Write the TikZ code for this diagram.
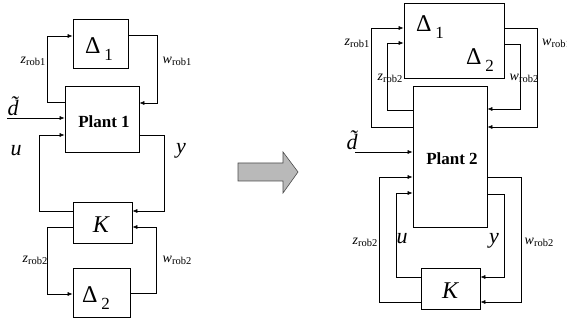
\documentclass[tikz,border=0pt]{standalone}
\usepackage{fontspec}
\setmainfont{Liberation Serif}
\usepackage{xcolor}
\usepackage{tikz}
\usetikzlibrary{positioning,arrows.meta,calc}

\newcommand{\roblab}[2]{{\fontsize{14}{14}\selectfont\itshape #1}\raisebox{-2pt}{\fontsize{10.5}{10.5}\selectfont #2}}
\newcommand{\dlab}[2]{{\fontsize{24}{24}\selectfont #1}\hspace{4pt}\raisebox{-7pt}{\fontsize{17}{17}\selectfont #2}}

\begin{document}
\begin{tikzpicture}[x=1pt, y=-1pt,
  blk/.style={draw, line width=0.7pt, inner sep=0pt},
  sig/.style={draw, line width=0.6pt, -{Latex[length=5pt,width=4pt]}},
  lbl/.style={inner sep=0pt},
  big/.style={inner sep=0pt, font=\fontsize{22}{22}\selectfont\itshape}]
\useasboundingbox (0,0) rectangle (567,320);
% left: two separate uncertainty blocks
\node[blk, minimum width=55pt, minimum height=49pt] (deltaA) at (100.5,43.5) {};
\node[blk, minimum width=74pt, minimum height=66pt] (plantA) at (102,119) {};
\node[blk, minimum width=59pt, minimum height=41pt] (kA) at (102.5,222.5) {};
\node[blk, minimum width=57pt, minimum height=49pt] (deltaB) at (101.5,292.5) {};
\node[lbl] (deltaAtxt) at (99,49) {\dlab{Δ}{1}};
\node[lbl] (deltaBtxt) at (96,298) {\dlab{Δ}{2}};
\node[lbl, font=\fontsize{17}{17}\selectfont\bfseries] (plantAtxt) at (104,122) {Plant 1};
\node[big, font=\fontsize{24}{24}\selectfont\itshape] (kAtxt) at (101,225) {K};
\coordinate (dinA) at (7,118);
\draw[sig] (plantA.west|-0,102) -- ++(-17,0) |- (deltaA.west|-0,36);
\draw[sig] (deltaA.east|-0,35) -- ++(29,0) |- (plantA.east|-0,103);
\draw[sig] (dinA) -- (plantA.west|-dinA);
\draw[sig] (kA.west|-0,211) -- ++(-33,0) |- (plantA.west|-0,135);
\draw[sig] (plantA.east|-0,135) -- ++(25,0) |- (kA.east|-0,211);
\draw[sig] (kA.west|-0,227) -- ++(-25,0) |- (deltaB.west|-0,294);
\draw[sig] (deltaB.east|-0,293) -- ++(26,0) |- (kA.east|-0,227);
\node[lbl] (zA1) at (33,61) {\roblab{z}{rob1}};
\node[lbl] (wA1) at (177,61) {\roblab{w}{rob1}};
\node[lbl] (zA2) at (35,260) {\roblab{z}{rob2}};
\node[lbl] (wA2) at (177,260) {\roblab{w}{rob2}};
\node[big] (dA) at (13,106) {\~{d}};
\node[big] (uA) at (16,151) {u};
\node[big] (yA) at (181,151) {y};
% block arrow
\draw[draw=black!70, fill=gray!55, line width=0.6pt] (238,163) -- (283,163) -- (283,152)
  -- (298,172) -- (283,193) -- (283,181) -- (238,181) -- cycle;
% right: one combined uncertainty block
\node[blk, minimum width=100pt, minimum height=75pt] (deltaC) at (454,40.5) {};
\node[blk, minimum width=74pt, minimum height=141pt] (plantB) at (450,156.5) {};
\node[blk, minimum width=59pt, minimum height=41pt] (kB) at (450.5,288.5) {};
\node[lbl] (deltaCtxt) at (430,27) {\dlab{Δ}{1}};
\node[lbl] (deltaDtxt) at (480,60) {\dlab{Δ}{2}};
\node[lbl, font=\fontsize{17}{17}\selectfont\bfseries] (plantBtxt) at (452,159) {Plant 2};
\node[big, font=\fontsize{24}{24}\selectfont\itshape] (kBtxt) at (450,291) {K};
\coordinate (dinB) at (355,152);
\draw[sig] (plantB.west|-0,127) -- ++(-41,0) |- (deltaC.west|-0,28);
\draw[sig] (plantB.west|-0,110) -- ++(-25,0) |- (deltaC.west|-0,43);
\draw[sig] (deltaC.east|-0,28) -- ++(33,0) |- (plantB.east|-0,127);
\draw[sig] (deltaC.east|-0,44) -- ++(16,0) |- (plantB.east|-0,109);
\draw[sig] (dinB) -- (plantB.west|-dinB);
\draw[sig] (kB.west|-0,302) -- ++(-41,0) |- (plantB.west|-0,177);
\draw[sig] (kB.west|-0,277) -- ++(-24,0) |- (plantB.west|-0,193);
\draw[sig] (plantB.east|-0,194) -- ++(17,0) |- (kB.east|-0,277);
\draw[sig] (plantB.east|-0,177) -- ++(34,0) |- (kB.east|-0,302);
\node[lbl] (zB1) at (357,43) {\roblab{z}{rob1}};
\node[lbl, anchor=west] (wB1) at (542,43) {\roblab{w}{rob1}};
\node[lbl] (zB2) at (390,78) {\roblab{z}{rob2}};
\node[lbl] (wB2) at (524,78) {\roblab{w}{rob2}};
\node[lbl] (zB3) at (365,242) {\roblab{z}{rob2}};
\node[lbl] (wB3) at (539,242) {\roblab{w}{rob2}};
\node[big] (dB) at (352,140) {\~{d}};
\node[big] (uB) at (402,239) {u};
\node[big] (yB) at (494,241) {y};
\end{tikzpicture}
\end{document}
